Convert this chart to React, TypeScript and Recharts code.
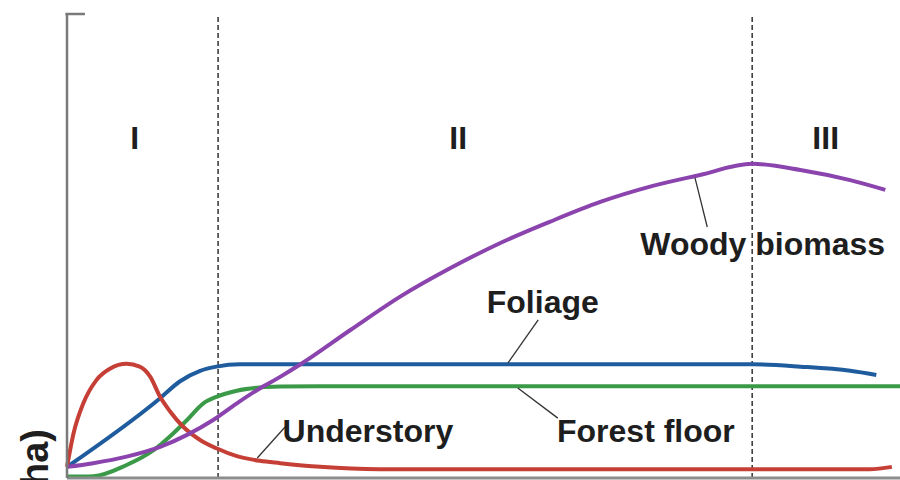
import React from 'react';
import { LineChart, Line, XAxis, YAxis, ReferenceLine, ReferenceDot } from 'recharts';

// Stand age (relative, 0-102) and biomass (relative, 0-100)
const understoryX = [0, 0.8, 2.0, 3.6, 5.3, 7.3, 8.9, 10.2, 11.4, 12.6, 14.2, 16.3, 18.3, 20.8, 23.6, 26.1, 31.0, 38.3, 60, 80, 98.3, 101.0];
const understoryY = [2.4, 9.6, 16.1, 21.1, 23.6, 24.6, 24.0, 21.8, 17.5, 14.4, 11.1, 8.2, 6.4, 4.7, 3.7, 3.2, 2.4, 1.9, 1.9, 1.9, 1.9, 2.4];

const foliageX = [0, 11.4, 13.8, 16.3, 18.3, 21.2, 26.1, 50, 83.9, 89.8, 95.9, 99.1];
const foliageY = [2.4, 17.2, 20.8, 23.1, 24.0, 24.5, 24.5, 24.5, 24.5, 24.0, 23.1, 22.2];

const forestFloorX = [0, 3.2, 7.3, 10.6, 13.0, 14.7, 16.7, 18.3, 20.8, 23.6, 26.1, 32.2, 60, 102];
const forestFloorY = [0.3, 0.4, 2.8, 6.0, 9.6, 12.5, 16.1, 17.5, 18.8, 19.5, 19.7, 19.8, 19.8, 19.8];

const woodyX = [0, 3.2, 7.3, 11.4, 14.7, 17.9, 20.8, 23.6, 26.1, 28.5, 34.7, 40.8, 46.9, 53.0, 59.1, 65.3, 71.4, 77.5, 83.9, 89.8, 95.9, 100.2];
const woodyY = [2.4, 3.2, 4.6, 6.7, 9.3, 12.5, 16.1, 19.3, 21.8, 24.4, 31.9, 39.1, 45.2, 50.6, 55.2, 59.5, 62.8, 65.3, 67.7, 66.4, 64.2, 62.1];

// Stage boundaries
const stageBounds = [18.5, 83.9];
const stageNames = ['I', 'II', 'III'];
const stageNameX = [8.3, 47.9, 92.9];
const stageNameY = 70.9;

// Curve labels: text, anchor point, leader line
const labelTexts = ['Woody biomass', 'Foliage', 'Understory', 'Forest floor'];
const labelX = [70.2, 51.4, 26.4, 60.0];
const labelY = [48.1, 35.6, 7.8, 7.8];
const leaderFrom = [[76.9, 64.7], [57.7, 34.1], [55.2, 19.4], [26.7, 11.0]];
const leaderTo = [[78.4, 54.1], [54.0, 24.8], [60.1, 12.9], [23.3, 4.3]];

const yLabel = 'Biomass (t/ha)';

const toPts = (xs: number[], ys: number[]) => xs.map((x, i) => ({ x, y: ys[i] }));

const FONT = '"Liberation Sans", Arial, Helvetica, sans-serif';
const TEXT_COLOR = '#1e1e1e';

export default function App() {
  const textShape = (txt: string, anchor: string, size = 32, rotate = false) => (p: any) => (
    <text
      x={p.cx}
      y={p.cy}
      textAnchor={anchor}
      fontFamily={FONT}
      fontWeight="bold"
      fontSize={size}
      fill={TEXT_COLOR}
      transform={rotate ? `rotate(-90 ${p.cx} ${p.cy})` : undefined}
    >
      {txt}
    </text>
  );

  return (
    <div style={{ position: 'absolute', left: 0, top: 0, width: 900, height: 480, background: '#fff' }}>
      <LineChart width={900} height={480} margin={{ top: 14, right: 0, bottom: 0, left: 60 }}>
        <XAxis
          dataKey="x"
          type="number"
          domain={[0, 102]}
          height={2}
          tick={false}
          tickLine={false}
          axisLine={{ stroke: '#8c8c8c', strokeWidth: 3 }}
        />
        <YAxis
          type="number"
          domain={[0, 100]}
          width={7}
          tick={false}
          tickLine={false}
          axisLine={{ stroke: '#7a7a7a', strokeWidth: 2.5 }}
        />
        <ReferenceLine
          segment={[{ x: -0.2, y: 100 }, { x: 2.2, y: 100 }]}
          stroke="#7a7a7a"
          strokeWidth={2.5}
          ifOverflow="visible"
        />
        {stageBounds.map((b, i) => (
          <ReferenceLine
            key={'b' + i}
            x={b}
            stroke="#333"
            strokeWidth={1.5}
            strokeDasharray="5 3"
            ifOverflow="visible"
          />
        ))}
        <Line data={toPts(foliageX, foliageY)} dataKey="y" type="monotone" stroke="#1f5c9e" strokeWidth={4} dot={false} isAnimationActive={false} />
        <Line data={toPts(forestFloorX, forestFloorY)} dataKey="y" type="monotone" stroke="#3b9a47" strokeWidth={4} dot={false} isAnimationActive={false} />
        <Line data={toPts(understoryX, understoryY)} dataKey="y" type="monotone" stroke="#c63f36" strokeWidth={4} dot={false} isAnimationActive={false} />
        <Line data={toPts(woodyX, woodyY)} dataKey="y" type="monotone" stroke="#8b44ad" strokeWidth={4} dot={false} isAnimationActive={false} />
        {leaderFrom.map((f, i) => (
          <ReferenceLine
            key={'l' + i}
            segment={[{ x: f[0], y: f[1] }, { x: leaderTo[i][0], y: leaderTo[i][1] }]}
            stroke="#333"
            strokeWidth={1.3}
            ifOverflow="visible"
          />
        ))}
        {labelTexts.map((t, i) => (
          <ReferenceDot
            key={'t' + i}
            x={labelX[i]}
            y={labelY[i]}
            r={0}
            ifOverflow="visible"
            shape={textShape(t, 'start')}
          />
        ))}
        {stageNames.map((s, i) => (
          <ReferenceDot
            key={'s' + i}
            x={stageNameX[i]}
            y={stageNameY}
            r={0}
            ifOverflow="visible"
            shape={textShape(s, 'middle')}
          />
        ))}
        <ReferenceDot
          x={-2.33}
          y={10.56}
          r={0}
          ifOverflow="visible"
          shape={textShape(yLabel, 'end', 38, true)}
        />
      </LineChart>
    </div>
  );
}
